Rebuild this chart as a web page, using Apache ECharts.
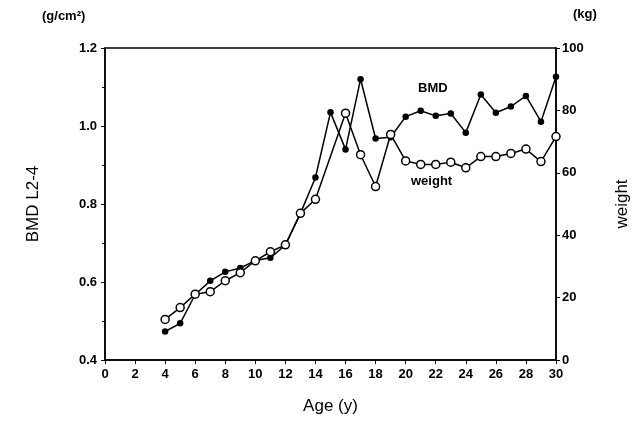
<!DOCTYPE html>
<html>
<head>
<meta charset="utf-8">
<script src="https://cdn.jsdelivr.net/npm/echarts@6/dist/echarts.min.js"></script>
<style>
  html, body { margin: 0; padding: 0; background: #fff; }
  #chart { width: 639px; height: 421px; }
</style>
</head>
<body>
<div id="chart"></div>
<script>
// values
const ages = [4, 5, 6, 7, 8, 9, 10, 11, 12, 13, 14, 15, 16, 17, 18, 19, 20, 21, 22, 23, 24, 25, 26, 27, 28, 29, 30];
const bmdValues = [0.473, 0.494, 0.568, 0.603, 0.626, 0.636, 0.655, 0.662, 0.695, 0.776, 0.868, 1.035, 0.940, 1.120, 0.968, 0.971,
    1.024, 1.039, 1.026, 1.032, 0.983, 1.081, 1.034, 1.050, 1.077, 1.011, 1.126];
// no weight point drawn at 15 y
const weightValues = [13.0, 16.8, 21.1, 21.9, 25.4, 28.0, 31.8, 34.7, 36.9, 47.0, 51.5, null, 79.1, 65.8, 55.6, 72.3,
    63.8, 62.7, 62.7, 63.4, 61.6, 65.2, 65.2, 66.2, 67.6, 63.6, 71.6];

const font = '"Liberation Sans", Arial, sans-serif';
const tickLabel = { color: '#000', fontFamily: font, fontSize: 13, fontWeight: 'bold' };

const chart = echarts.init(document.getElementById('chart'));
chart.setOption({
    animation: false,
    grid: { left: 105, right: 83, top: 48, bottom: 61, show: true, borderColor: '#000', borderWidth: 1.5 },
    xAxis: {
        type: 'value', min: 0, max: 30, interval: 2,
        name: 'Age (y)', nameLocation: 'middle', nameGap: 38,
        nameTextStyle: { color: '#000', fontFamily: font, fontSize: 17 },
        axisLine: { lineStyle: { color: '#000', width: 1.5 } },
        axisTick: { show: true, length: 4, lineStyle: { color: '#000' } },
        axisLabel: Object.assign({ margin: 8 }, tickLabel),
        splitLine: { show: false }
    },
    yAxis: [
        {
            type: 'value', min: 0.4, max: 1.2, interval: 0.2,
            name: 'BMD L2-4', nameLocation: 'middle', nameGap: 63,
            nameTextStyle: { color: '#000', fontFamily: font, fontSize: 17 },
            axisLine: { show: true, lineStyle: { color: '#000', width: 1.5 } },
            axisTick: { show: true, length: 4, lineStyle: { color: '#000' } },
            minorTick: { show: true, splitNumber: 2, length: 3, lineStyle: { color: '#000' } },
            axisLabel: Object.assign({ margin: 8, formatter: v => v.toFixed(1) }, tickLabel),
            splitLine: { show: false }
        },
        {
            type: 'value', min: 0, max: 100, interval: 20, position: 'right',
            name: 'weight', nameLocation: 'middle', nameGap: 58, nameRotate: 90,
            nameTextStyle: { color: '#000', fontFamily: font, fontSize: 17 },
            axisLine: { show: true, lineStyle: { color: '#000', width: 1.5 } },
            axisTick: { show: true, length: 4, lineStyle: { color: '#000' } },
            axisLabel: Object.assign({ margin: 6 }, tickLabel),
            splitLine: { show: false }
        }
    ],
    graphic: [
        { type: 'text', left: 42, top: 10, style: { text: '(g/cm²)', font: 'bold 13px ' + font, fill: '#000' } },
        { type: 'text', left: 573, top: 8, style: { text: '(kg)', font: 'bold 13px ' + font, fill: '#000' } },
        { type: 'text', left: 418, top: 82, style: { text: 'BMD', font: 'bold 13px ' + font, fill: '#000' } },
        { type: 'text', left: 411, top: 175, style: { text: 'weight', font: 'bold 13px ' + font, fill: '#000' } }
    ],
    series: [
        {
            name: 'BMD', type: 'line', yAxisIndex: 0,
            data: ages.map((a, i) => [a, bmdValues[i]]),
            symbol: 'circle', symbolSize: 6.5,
            lineStyle: { color: '#000', width: 1.5 },
            itemStyle: { color: '#000' },
            z: 3
        },
        {
            name: 'weight', type: 'line', yAxisIndex: 1,
            data: ages.map((a, i) => [a, weightValues[i]]),
            connectNulls: true,
            symbol: 'circle', symbolSize: 8,
            lineStyle: { color: '#000', width: 1.5 },
            itemStyle: { color: '#fff', borderColor: '#000', borderWidth: 1.5 },
            z: 4
        }
    ]
});
</script>
</body>
</html>
